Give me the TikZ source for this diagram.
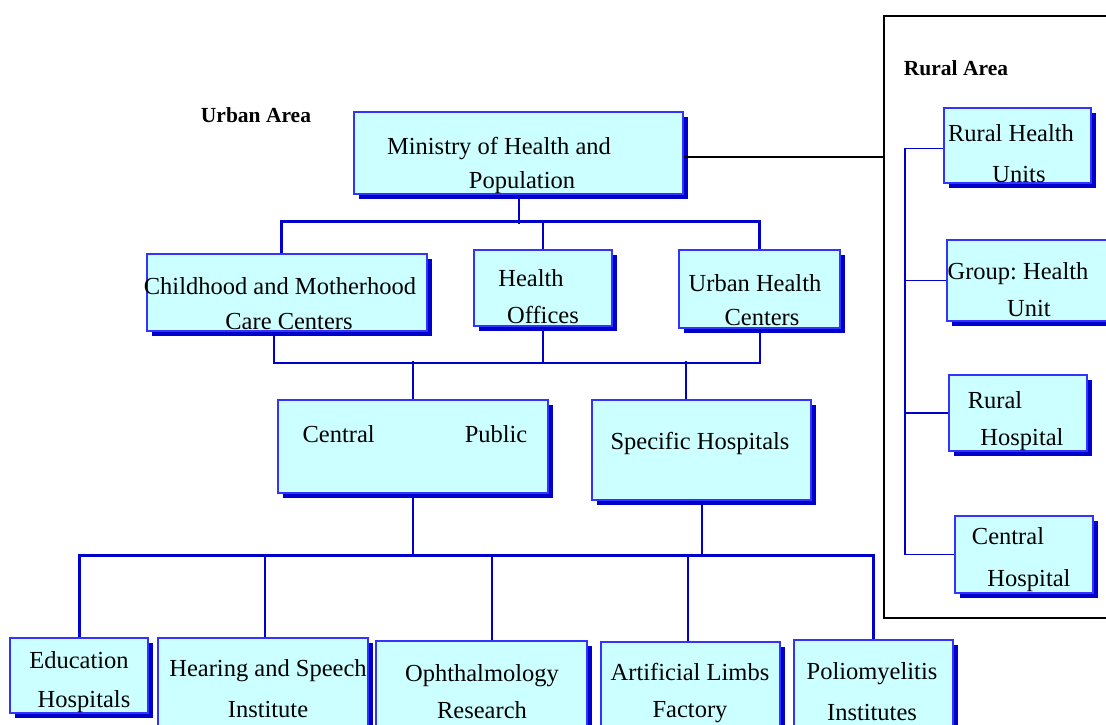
\documentclass[tikz,border=0pt]{standalone}
\usepackage{fontspec}
\setmainfont{Liberation Serif}
\frenchspacing
\usetikzlibrary{shadows}
\usetikzlibrary{backgrounds}
\usetikzlibrary{calc}

\definecolor{boxfill}{RGB}{204,255,255}
\definecolor{boxline}{RGB}{51,51,255}
\definecolor{shadowblue}{RGB}{0,0,204}
\definecolor{linkblue}{RGB}{0,0,204}

\tikzset{
  unit/.style={draw=boxline,line width=1.2pt,fill=boxfill,inner sep=0pt,
    drop shadow={shadow xshift=5pt,shadow yshift=-5pt,fill=shadowblue,opacity=1}},
  txt/.style={inner sep=0pt,align=center,font=\fontsize{24.5}{37}\selectfont},
  area/.style={inner sep=0pt,font=\bfseries\fontsize{21.5}{24}\selectfont},
  link/.style={draw=linkblue,line width=2pt},
  bus/.style={draw=linkblue,line width=3pt},
}

\begin{document}
\begin{tikzpicture}[x=1pt,y=-1pt]
\useasboundingbox (0,0) rectangle (1106,724);
\clip (0,0) rectangle (1106,724);

% urban area
\node[area] (urban) at (256,115) {Urban Area};
\node[unit,minimum width=329pt,minimum height=82pt] (mhp) at (518.5,153) {};
\node[unit,minimum width=280pt,minimum height=77pt] (cmc) at (287,292.5) {};
\node[unit,minimum width=138pt,minimum height=76pt] (hof) at (543,288) {};
\node[unit,minimum width=161pt,minimum height=78pt] (uhc) at (759.5,289) {};
\node[unit,minimum width=270pt,minimum height=93pt] (cph) at (413,446.5) {};
\node[unit,minimum width=219pt,minimum height=100pt] (sph) at (701.5,450) {};
\node[unit,minimum width=138pt,minimum height=75pt] (edu) at (79,675.5) {};
\node[unit,minimum width=210pt,minimum height=102pt] (hsi) at (263,689) {};
\node[unit,minimum width=211pt,minimum height=99pt] (ori) at (481.5,690.5) {};
\node[unit,minimum width=179pt,minimum height=98pt] (alf) at (690.5,691) {};
\node[unit,minimum width=159pt,minimum height=100pt] (pol) at (873.5,690) {};

\node[txt] (mhp-t) at (499,165) {Ministry of Health and\\[-3pt]\hspace*{46pt}Population};
\node[txt] (cmc-t) at (280,303.5) {Childhood and Motherhood\\[-2pt]\hspace*{18pt}Care Centers};
\node[txt] (hof-t) at (543,296.5) {Health\hspace*{24pt}\\Offices};
\node[txt] (uhc-t) at (755,300.5) {Urban Health\\[-3pt]\hspace*{14pt}Centers};
\node[txt] (cph-t) at (415,434) {Central\hspace*{90pt}Public};
\node[txt] (sph-t) at (700,443) {Specific Hospitals};
\node[txt] (edu-t) at (79,682.5) {Education\\[2pt]\hspace*{10pt}Hospitals};
\node[txt] (hsi-t) at (268,688.5) {Hearing and Speech\\[4pt]Institute};
\node[txt] (ori-t) at (482,692) {Ophthalmology\\Research};
\node[txt] (alf-t) at (690,693) {Artificial Limbs\\Factory};
\node[txt] (pol-t) at (872,691.5) {Poliomyelitis\\[4pt]Institutes};

% rural area
\node[draw=black,line width=1.2pt,minimum width=246pt,minimum height=602pt,inner sep=0pt] (rural) at (1007,317) {};
\node[area] (rural-t) at (956,68) {Rural Area};
\node[unit,minimum width=147pt,minimum height=75pt] (rhu) at (1017.5,145.5) {};
\node[unit,minimum width=173pt,minimum height=81pt] (ghu) at (1033.5,280.5) {};
\node[unit,minimum width=138pt,minimum height=76pt] (rho) at (1018,413) {};
\node[unit,minimum width=138pt,minimum height=77pt] (rch) at (1024,554.5) {};

\node[txt] (rhu-t) at (1011,153.5) {Rural Health\\[4pt]\hspace*{16pt}Units};
\node[txt] (ghu-t) at (1018,289.5) {Group: Health\\\hspace*{22pt}Unit};
\node[txt] (rho-t) at (1022,421.5) {Rural\hspace*{54pt}\\Hospital};
\node[txt] (rch-t) at (1008,560) {Central\\[5pt]\hspace*{42pt}Hospital};

\coordinate (trunk) at (905,0);

\draw[black,line width=1.2pt] ([yshift=-4pt]mhp.east) -- ([yshift=-4pt]mhp.east -| rural.west);

\begin{scope}[on background layer]
\draw[link] (mhp.south) -- ++(0,29);
\draw[bus] ([xshift=-6pt]cmc.north) -- ++(0,-32) -| (uhc.north);
\draw[link] (hof.north) -- ++(0,-28);
\draw[link] ([xshift=-13pt]cmc.south) -- ++(0,31) -| (uhc.south);
\draw[link] (hof.south) -- ++(0,36);
\draw[link] (cph.north) -- ++(0,-38);
\draw[link] ([xshift=-16pt]sph.north) -- ++(0,-38);
\draw[link] (cph.south) -- ++(0,63);
\draw[link] (sph.south) -- ++(0,56);
\draw[bus] (edu.north) -- ++(0,-82) -| (pol.north);
\draw[link] ([xshift=2pt]hsi.north) -- ++(0,-80);
\draw[link] ([xshift=10pt]ori.north) -- ++(0,-85);
\draw[link] ([xshift=-3pt]alf.north) -- ++(0,-86);
\draw[link,line width=1.5pt] ([yshift=-3pt]rhu.west) -| (rch.west -| trunk) -- (rch.west);
\draw[link,line width=1.5pt] (ghu.west) -- (ghu.west -| trunk);
\draw[link,line width=1.5pt] (rho.west) -- (rho.west -| trunk);
\end{scope}
\end{tikzpicture}
\end{document}
